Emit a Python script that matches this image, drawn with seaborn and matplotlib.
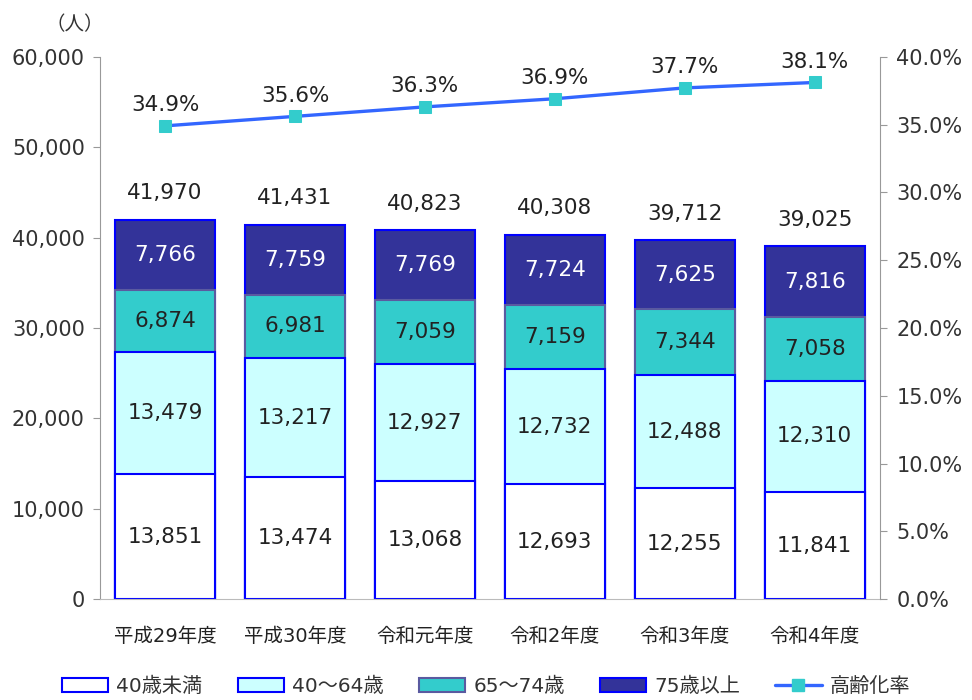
import matplotlib.pyplot as plt
import seaborn as sns
import pandas as pd
import numpy as np
from matplotlib.patches import Patch
from matplotlib.lines import Line2D
from matplotlib.ticker import FuncFormatter

# data
years = ['平成29年度', '平成30年度', '令和元年度', '令和2年度', '令和3年度', '令和4年度']
under40 = [13851, 13474, 13068, 12693, 12255, 11841]
age40_64 = [13479, 13217, 12927, 12732, 12488, 12310]
age65_74 = [6874, 6981, 7059, 7159, 7344, 7058]
over75 = [7766, 7759, 7769, 7724, 7625, 7816]
totals = [41970, 41431, 40823, 40308, 39712, 39025]
aging_rate = [34.9, 35.6, 36.3, 36.9, 37.7, 38.1]

series_names = ['40歳未満', '40～64歳', '65～74歳', '75歳以上']
colors = ['#FFFFFF', '#CCFFFF', '#33CCCC', '#333399']
edges = ['#0000FF', '#0000FF', '#5A5AA0', '#0000FF']
line_color = '#3366FF'

sns.set_style('white')
# DejaVu first for the wide latin digits, CJK falls back to Noto
plt.rcParams['font.family'] = ['DejaVu Sans', 'Noto Sans CJK JP']

df = pd.DataFrame({'year': years, 'u40': under40, 'a40': age40_64,
                   'a65': age65_74, 'o75': over75})
cols = ['u40', 'a40', 'a65', 'o75']
cum = df[cols].cumsum(axis=1)

fig = plt.figure(figsize=(9.72, 7.0), dpi=100)
ax = fig.add_axes([0.103, 0.144, 0.802, 0.775])

# stacked bars drawn as overlapping cumulative bars (top first)
for i in range(3, -1, -1):
    sns.barplot(x=df['year'], y=cum[cols[i]], color=colors[i], edgecolor=edges[i],
                linewidth=1.5, width=0.77, saturation=1, ax=ax)

ax.set_ylim(0, 60000)
ax.set_xlim(-0.5, 5.5)
ax.set_yticks(range(0, 60001, 10000))
ax.yaxis.set_major_formatter(FuncFormatter(lambda v, p: f'{int(v):,}'))
ax.set_xlabel('')
ax.set_ylabel('')
ax.tick_params(axis='y', labelsize=15, colors='#333333', length=5, color='#999999',
               direction='out', left=True, pad=6)
ax.tick_params(axis='x', labelsize=14, colors='#222222', length=0, pad=20)
for s in ['top', 'right']:
    ax.spines[s].set_visible(False)
ax.spines['left'].set_color('#999999')
ax.spines['bottom'].set_color('#BBBBBB')

# segment labels
for j in range(len(years)):
    base = 0
    for i, vals in enumerate([under40, age40_64, age65_74, over75]):
        v = vals[j]
        tc = 'white' if i == 3 else '#222222'
        ax.text(j, base + v / 2, f'{v:,}', ha='center', va='center',
                fontsize=15.5, color=tc)
        base += v
    ax.annotate(f'{totals[j]:,}', (j, totals[j]), xytext=(0, 19),
                textcoords='offset points', ha='center', va='center',
                fontsize=15.5, color='#222222')

ax.text(-0.032, 1.059, '（人）', transform=ax.transAxes, ha='center', va='center',
        fontsize=14, color='#333333')

# aging rate on secondary axis
ax2 = ax.twinx()
sns.lineplot(x=np.arange(len(years)), y=aging_rate, color=line_color, linewidth=2.4,
             marker='s', markersize=8, markerfacecolor='#33CCCC',
             markeredgecolor='#33CCCC', ax=ax2)
ax2.set_ylim(0, 40)
ax2.set_yticks(np.arange(0, 40.1, 5))
ax2.yaxis.set_major_formatter(FuncFormatter(lambda v, p: f'{v:.1f}%'))
ax2.tick_params(axis='y', labelsize=15, colors='#333333', length=5, color='#999999',
                direction='out', right=True, pad=7)
for s in ['top', 'left', 'bottom']:
    ax2.spines[s].set_visible(False)
ax2.spines['right'].set_color('#999999')
for j, r in enumerate(aging_rate):
    ax2.annotate(f'{r:.1f}%', (j, r), xytext=(0, 15), textcoords='offset points',
                 ha='center', va='center', fontsize=15.5, color='#222222')

handles = [Patch(facecolor=colors[i], edgecolor=edges[i], linewidth=1.5, label=series_names[i])
           for i in range(4)]
handles.append(Line2D([0], [0], color=line_color, linewidth=2.4, marker='s', markersize=8,
                      markerfacecolor='#33CCCC', markeredgecolor='#33CCCC', label='高齢化率'))
fig.legend(handles=handles, loc='lower center', bbox_to_anchor=(0.5, -0.02), ncol=5,
           frameon=False, fontsize=14.5, handlelength=2.3, handletextpad=0.4,
           columnspacing=1.75, labelcolor='#333333')

plt.savefig('out.png', dpi=100)
